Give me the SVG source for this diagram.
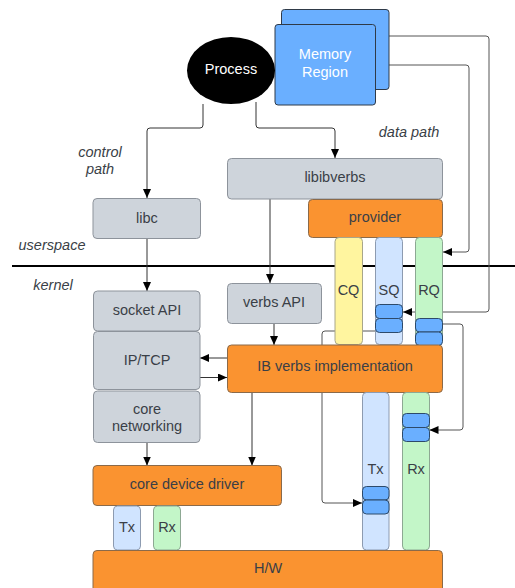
<svg xmlns="http://www.w3.org/2000/svg" width="515" height="588" viewBox="0 0 515 588">
<style>
text{font-family:"Liberation Sans",Arial,sans-serif;font-size:14.5px;fill:#3a3f47;text-anchor:middle;dominant-baseline:central}
.it{font-style:italic}
.w{fill:#ffffff}
.gray{fill:#ced4db;stroke:#8d939b;stroke-width:1}
.org{fill:#fa9330;stroke:#8a6a4a;stroke-width:1}
.mem{fill:#6aafff;stroke:#2f3a48;stroke-width:1}
.blk{fill:#6aafff;stroke:#2d4a6a;stroke-width:1}
.cq{fill:#fff59f;stroke:#a8a68a;stroke-width:1}
.sq{fill:#d0e4ff;stroke:#8d9bb0;stroke-width:1}
.rq{fill:#c3f6c8;stroke:#8da893;stroke-width:1}
.c{fill:none;stroke:#333;stroke-width:1}
.cg{fill:none;stroke:#555;stroke-width:1}
</style>
<defs>
<marker id="ah" viewBox="0 0 10 10" refX="10" refY="5" markerWidth="9" markerHeight="8" markerUnits="userSpaceOnUse" orient="auto" preserveAspectRatio="none">
<path d="M0,0 L10,5 L0,10 z" fill="#000"/>
</marker>
</defs>
<line x1="12" y1="266" x2="515" y2="266" stroke="#000" stroke-width="2"/>
<g id="labels">
<text class="it" x="100" y="152">control</text>
<text class="it" x="100" y="169">path</text>
<text class="it" x="409" y="132">data path</text>
<text class="it" x="52" y="245">userspace</text>
<text class="it" x="53" y="285">kernel</text>
</g>
<g id="connectors">
<path class="c" d="M203,104 V125 Q203,128 200,128 H150 Q147,128 147,131 V198" marker-end="url(#ah)"/>
<path class="c" d="M256,102 V125 Q256,128 259,128 H332 Q335,128 335,131 V158" marker-end="url(#ah)"/>
<path class="c" d="M147,238 V291" marker-end="url(#ah)"/>
<path class="c" d="M270,199 V283" marker-end="url(#ah)"/>
<path class="c" d="M274,323 V345" marker-end="url(#ah)"/>
<path class="c" d="M227,358 H200" marker-end="url(#ah)"/>
<path class="c" d="M200,377.5 H227" marker-end="url(#ah)"/>
<path class="c" d="M147,442 V465.5" marker-end="url(#ah)"/>
<path class="c" d="M252,392 V465.5" marker-end="url(#ah)"/>
<path class="cg" d="M389,36 H486 Q489,36 489,39 V309 Q489,312 486,312 H403" marker-end="url(#ah)"/>
<path class="cg" d="M376,65 H466 Q469,65 469,68 V249 Q469,252 466,252 H443" marker-end="url(#ah)"/>
<path class="cg" d="M443,324 H460 Q463,324 463,327 V427 Q463,430 460,430 H429.5" marker-end="url(#ah)"/>
<path class="cg" d="M375,331 H325 Q322,331 322,334 V500 Q322,503 325,503 H362" marker-end="url(#ah)"/>
</g>
<g id="memory">
<rect class="mem" x="281.5" y="9.5" width="107.5" height="80" rx="3"/>
<rect class="mem" x="275" y="24.5" width="100.5" height="80.5" rx="3"/>
<text class="w" x="325" y="54">Memory</text>
<text class="w" x="325" y="72">Region</text>
</g>
<g id="process">
<ellipse cx="231" cy="70.5" rx="44" ry="33.5" fill="#000"/>
<text class="w" x="231" y="69">Process</text>
</g>
<g id="libibverbs">
<rect class="gray" x="227.5" y="158.5" width="215" height="40.5" rx="4"/>
<text x="335" y="177">libibverbs</text>
</g>
<g id="provider">
<rect class="org" x="308.5" y="199.5" width="134" height="38" rx="4"/>
<text x="375" y="217">provider</text>
</g>
<g id="libc">
<rect class="gray" x="93" y="198.5" width="107.5" height="40" rx="4"/>
<text x="147" y="218">libc</text>
</g>
<g id="cq">
<rect class="cq" x="335" y="237.5" width="27.5" height="107" rx="4"/>
<text x="348.5" y="290">CQ</text>
</g>
<g id="sq">
<rect class="sq" x="375.5" y="237.5" width="27" height="107" rx="4"/>
<text x="389" y="290">SQ</text>
<rect class="blk" x="375.5" y="304.5" width="27" height="14" rx="4"/>
<rect class="blk" x="375.5" y="318.5" width="27" height="14" rx="4"/>
</g>
<g id="rq">
<rect class="rq" x="415.5" y="237.5" width="27" height="107" rx="4"/>
<text x="429" y="290">RQ</text>
<rect class="blk" x="415.5" y="318.5" width="27" height="13.5" rx="4"/>
<rect class="blk" x="415.5" y="332" width="27" height="13.5" rx="4"/>
</g>
<g id="socket-api">
<rect class="gray" x="93.5" y="291" width="106.5" height="40" rx="4"/>
<text x="147" y="310">socket API</text>
</g>
<g id="ip-tcp">
<rect class="gray" x="93.5" y="331.5" width="106.5" height="58" rx="4"/>
<text x="147" y="360">IP/TCP</text>
</g>
<g id="core-networking">
<rect class="gray" x="93.5" y="391" width="106.5" height="51.5" rx="4"/>
<text x="147" y="408.5">core</text>
<text x="147" y="426">networking</text>
</g>
<g id="verbs-api">
<rect class="gray" x="227.5" y="283.5" width="94" height="40" rx="4"/>
<text x="274" y="302">verbs API</text>
</g>
<g id="ib-verbs">
<rect class="org" x="227.5" y="345" width="215" height="47.5" rx="4"/>
<text x="335" y="366">IB verbs implementation</text>
</g>
<g id="tx-queue">
<rect class="sq" x="362.5" y="392.5" width="26.5" height="157.5" rx="4"/>
<text x="375.5" y="469">Tx</text>
<rect class="blk" x="362.5" y="486.5" width="26.5" height="13.5" rx="4"/>
<rect class="blk" x="362.5" y="500" width="26.5" height="14" rx="4"/>
</g>
<g id="rx-queue">
<rect class="rq" x="402.5" y="392.5" width="27" height="157.5" rx="4"/>
<text x="416" y="469">Rx</text>
<rect class="blk" x="402.5" y="413.5" width="27" height="14" rx="4"/>
<rect class="blk" x="402.5" y="427.5" width="27" height="14" rx="4"/>
</g>
<g id="core-device-driver">
<rect class="org" x="93" y="465.5" width="188.5" height="40" rx="4"/>
<text x="187" y="484">core device driver</text>
</g>
<g id="tx">
<rect class="sq" x="113.5" y="506" width="27" height="44" rx="4"/>
<text x="127" y="527">Tx</text>
</g>
<g id="rx">
<rect class="rq" x="153.5" y="506" width="27" height="44" rx="4"/>
<text x="167" y="527">Rx</text>
</g>
<g id="hw">
<rect class="org" x="93" y="550.5" width="349.5" height="50" rx="4"/>
<text x="268" y="568">H/W</text>
</g>
</svg>
